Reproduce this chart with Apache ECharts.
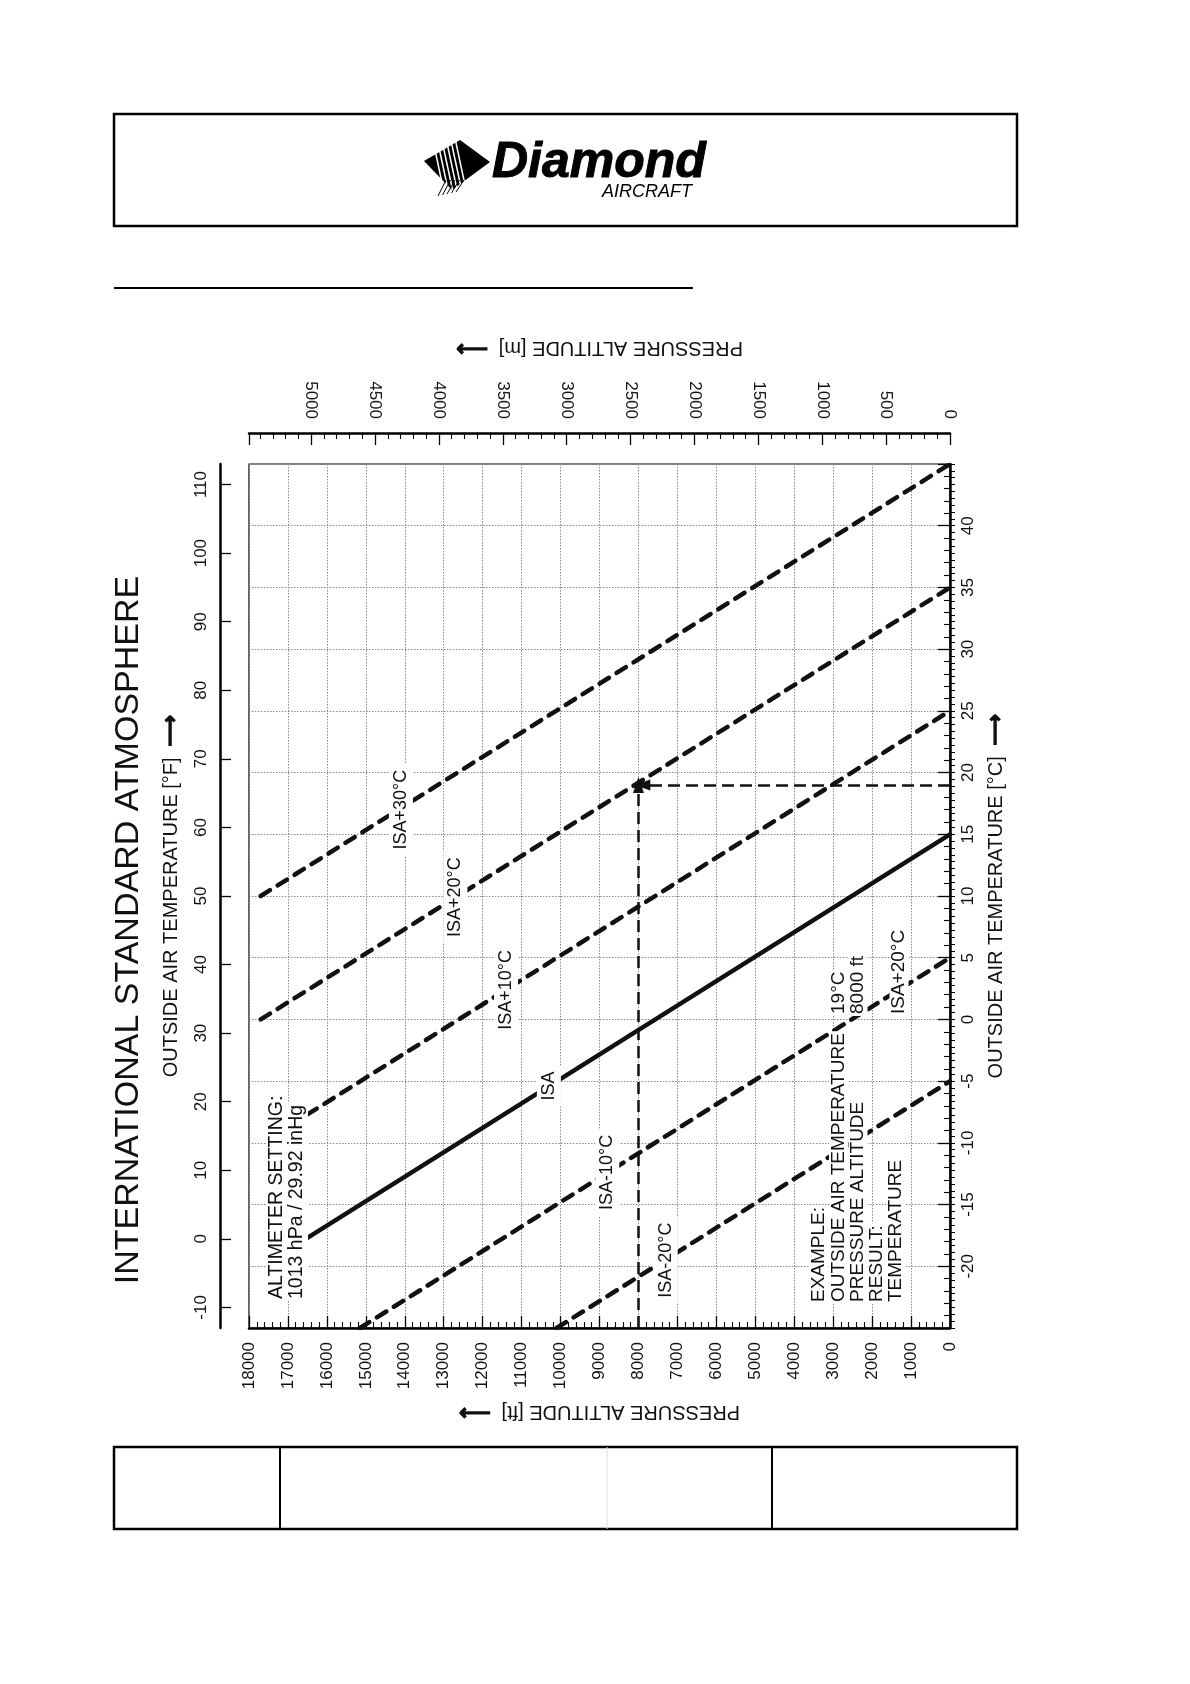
<!DOCTYPE html>
<html>
<head>
<meta charset="utf-8">
<script src="https://cdn.jsdelivr.net/npm/echarts@6/dist/echarts.min.js"></script>
<style>
html,body{margin:0;padding:0;background:#fff;}
#c{width:1190px;height:1684px;}
</style>
</head>
<body>
<div id="c"></div>
<script>
// ---------- data ----------
const lineNames = ['ISA+30°C', 'ISA+20°C', 'ISA+10°C', 'ISA', 'ISA-10°C', 'ISA-20°C'];
const startAlt  = [17700, 17700, 16500, 16500, 15150, 10100];   // ft
const startTemp = [10, 0, -7.7, -17.7, -25, -25];                // °C
const endAlt    = [0, 0, 0, 0, 0, 0];                            // ft
const endTemp   = [45, 35, 25, 15, 5, -5];                       // °C
const labelAlt  = [14100, 12700, 11400, 10300, 8800, 7300];      // ft
const labelTemp = [17, 9.9, 2.4, -5.4, -12.4, -19.5];            // °C

const altTicksFt = [0,1000,2000,3000,4000,5000,6000,7000,8000,9000,10000,11000,12000,13000,14000,15000,16000,17000,18000];
const altTicksM  = [0,500,1000,1500,2000,2500,3000,3500,4000,4500,5000];
const tempTicksC = [-20,-15,-10,-5,0,5,10,15,20,25,30,35,40];
const tempTicksF = [-10,0,10,20,30,40,50,60,70,80,90,100,110];

const altMinFt = 0, altMaxFt = 18000;
const altMaxM = 5486.4;
const tempMinC = -25, tempMaxC = 45;
const tempMinF = -13, tempMaxF = 113;

const exampleAlt = [8000, 7900];   // vertical path alt, horizontal arrow tip alt
const exampleTemp = [19];

const exampleLabels = ['EXAMPLE:', 'OUTSIDE AIR TEMPERATURE', 'PRESSURE ALTITUDE', 'RESULT:', 'TEMPERATURE'];
const exampleValues = ['', '19°C', '8000 ft', '', 'ISA+20°C'];
const altimeterLines = ['ALTIMETER SETTING:', '1013 hPa / 29.92 inHg'];

// ---------- chart ----------
const FONT = '"Liberation Sans", Arial, Helvetica, sans-serif';
const chart = echarts.init(document.getElementById('c'), null, {renderer: 'canvas'});

const series = lineNames.map((n, i) => ({
  type: 'line',
  name: n,
  xAxisIndex: 0,
  yAxisIndex: 0,
  data: [[startAlt[i], startTemp[i]], [endAlt[i], endTemp[i]]],
  symbol: 'none',
  silent: true,
  z: 2,
  lineStyle: {color: '#111', width: 4.5, type: i === 3 ? 'solid' : [11, 9], cap: 'round'},
  markPoint: {
    symbol: 'rect', symbolSize: 1, silent: true, z: 20,
    itemStyle: {color: 'rgba(0,0,0,0)'},
    data: [{coord: [labelAlt[i], labelTemp[i]], name: n}],
    label: {
      show: true, position: 'inside', rotate: 90, formatter: n,
      backgroundColor: '#fff', padding: [3, 6],
      fontSize: 18, fontFamily: FONT, color: '#111'
    }
  }
}));

series.push({
  type: 'line',
  name: 'example',
  xAxisIndex: 0, yAxisIndex: 0,
  data: [],
  silent: true,
  z: 3,
  markLine: {
    silent: true, z: 6,
    symbol: ['none', 'triangle'],
    symbolSize: [11, 16],
    label: {show: false},
    lineStyle: {color: '#111', width: 2.5, type: [12, 6]},
    data: [
      [{coord: [exampleAlt[0], tempMinC]}, {coord: [exampleAlt[0], exampleTemp[0]]}],
      [{coord: [altMinFt, exampleTemp[0]]}, {coord: [exampleAlt[1], exampleTemp[0]]}]
    ]
  }
});

const graphics = [];
// header box + logo
graphics.push({type: 'rect', shape: {x: 114, y: 114, width: 903, height: 112}, style: {fill: 'none', stroke: '#000', lineWidth: 2.5}});
graphics.push({type: 'polygon', shape: {points: [[424, 161], [460, 140], [490, 162], [452, 190]]}, style: {fill: '#000'}});
for (let k = 0; k < 6; k++) {
  graphics.push({type: 'line', shape: {x1: 432 + k * 4.5, y1: 136, x2: 444 + k * 4.5, y2: 192}, style: {stroke: '#fff', lineWidth: 1.5}, z: 2});
}
for (let k = 0; k < 5; k++) {
  graphics.push({type: 'line', shape: {x1: 446 + k * 4.5, y1: 180, x2: 438 + k * 4.5, y2: 196 - k}, style: {stroke: '#000', lineWidth: 1}, z: 2});
}
graphics.push({type: 'text', x: 492, y: 163, style: {text: 'Diamond', font: 'italic bold 50px ' + FONT, fill: '#000', align: 'left', verticalAlign: 'middle', stroke: '#000', lineWidth: 1}});
graphics.push({type: 'text', x: 602, y: 192, style: {text: 'AIRCRAFT', font: 'italic 18px ' + FONT, fill: '#000', align: 'left', verticalAlign: 'middle'}});
// header rule
graphics.push({type: 'line', shape: {x1: 114, y1: 288, x2: 693, y2: 288}, style: {stroke: '#000', lineWidth: 1.8}});
// footer box
graphics.push({type: 'rect', shape: {x: 114, y: 1447, width: 903, height: 82}, style: {fill: 'none', stroke: '#000', lineWidth: 2.5}});
graphics.push({type: 'line', shape: {x1: 280, y1: 1447, x2: 280, y2: 1529}, style: {stroke: '#000', lineWidth: 2}});
graphics.push({type: 'line', shape: {x1: 607, y1: 1447, x2: 607, y2: 1529}, style: {stroke: '#ddd', lineWidth: 1}});
graphics.push({type: 'line', shape: {x1: 772, y1: 1447, x2: 772, y2: 1529}, style: {stroke: '#000', lineWidth: 2}});
// title
graphics.push({type: 'text', x: 129, y: 930, rotation: Math.PI / 2, style: {text: 'INTERNATIONAL STANDARD ATMOSPHERE', font: '34px ' + FONT, fill: '#111', align: 'center', verticalAlign: 'middle'}});
// altimeter note
altimeterLines.forEach((t, i) => {
  graphics.push({type: 'text', x: 277 + i * 20, y: 1301, rotation: Math.PI / 2, z: 50,
    style: {text: t, font: '19.5px ' + FONT, fill: '#111', align: 'left', verticalAlign: 'middle', backgroundColor: '#fff', padding: [1, 2]}});
});
// example block
const exX = [819, 838.5, 858, 877, 896];
exampleLabels.forEach((t, i) => {
  graphics.push({type: 'text', x: exX[i], y: 1304, rotation: Math.PI / 2, z: 50,
    style: {text: t, font: '19px ' + FONT, fill: '#111', align: 'left', verticalAlign: 'middle', backgroundColor: '#fff', padding: [0, 2]}});
  if (exampleValues[i]) {
    graphics.push({type: 'text', x: exX[i] + (i === 4 ? 3 : 0), y: 1016, rotation: Math.PI / 2, z: 50,
      style: {text: exampleValues[i], font: '19px ' + FONT, fill: '#111', align: 'left', verticalAlign: 'middle', backgroundColor: '#fff', padding: [0, 2]}});
  }
});

const labelFont = {fontSize: 17, fontFamily: FONT, color: '#111'};
const nameFont = {
  fontSize: 20, fontFamily: FONT, color: '#111',
  rich: {a: {fontSize: 22, fontFamily: '"DejaVu Sans", sans-serif', color: '#111', textBorderColor: '#111', textBorderWidth: 1.6}}
};
const ARROW = '  {a|⟶}';

const option = {
  animation: false,
  backgroundColor: '#fff',
  grid: {left: 249, right: 240, top: 464, bottom: 356, show: true, borderColor: '#000', borderWidth: 1.2, backgroundColor: 'transparent'},
  xAxis: [
    {
      type: 'value', position: 'bottom', min: altMinFt, max: altMaxFt, interval: 1000, inverse: true,
      name: 'PRESSURE ALTITUDE [ft]' + ARROW, nameLocation: 'middle', nameGap: 73, nameRotate: 180, nameTextStyle: nameFont,
      axisLine: {show: true, onZero: false, lineStyle: {color: '#000', width: 2.5}},
      axisTick: {show: true, inside: true, length: 12, lineStyle: {color: '#000', width: 1.3}},
      minorTick: {show: true, splitNumber: 5, length: 6, lineStyle: {color: '#000', width: 1.1}},
      axisLabel: Object.assign({rotate: 90, margin: 14, hideOverlap: false, formatter: v => altTicksFt.includes(v) ? String(v) : ''}, labelFont),
      splitLine: {show: true, lineStyle: {color: '#8a8a8a', width: 1, type: [1.5, 1.5]}}
    },
    {
      type: 'value', position: 'top', offset: 31, min: 0, max: altMaxM, interval: 500, inverse: true,
      name: 'PRESSURE ALTITUDE [m]' + ARROW, nameLocation: 'middle', nameGap: 74, nameRotate: 180, nameTextStyle: nameFont,
      axisLine: {show: true, onZero: false, lineStyle: {color: '#000', width: 2.5}},
      axisTick: {show: true, inside: true, length: 12, lineStyle: {color: '#000', width: 1.3}},
      minorTick: {show: true, splitNumber: 5, length: 6, lineStyle: {color: '#000', width: 1.1}},
      axisLabel: Object.assign({rotate: 90, margin: 14, hideOverlap: false, showMaxLabel: false, formatter: v => altTicksM.includes(v) ? String(v) : ''}, labelFont),
      splitLine: {show: false}
    }
  ],
  yAxis: [
    {
      type: 'value', position: 'right', min: tempMinC, max: tempMaxC, interval: 5,
      name: 'OUTSIDE AIR TEMPERATURE [°C]' + ARROW, nameLocation: 'middle', nameGap: 34, nameRotate: 90, nameTextStyle: nameFont,
      axisLine: {show: true, onZero: false, lineStyle: {color: '#000', width: 2.5}},
      axisTick: {show: true, inside: true, length: 12, lineStyle: {color: '#000', width: 1.3}},
      minorTick: {show: true, splitNumber: 5, length: 6, lineStyle: {color: '#000', width: 1.1}},
      axisLabel: Object.assign({rotate: 90, margin: 10, hideOverlap: false, formatter: v => tempTicksC.includes(v) ? String(v) : ''}, labelFont),
      splitLine: {show: true, lineStyle: {color: '#8a8a8a', width: 1, type: [1.5, 1.5]}}
    },
    {
      type: 'value', position: 'left', offset: 29, min: tempMinF, max: tempMaxF,
      name: 'OUTSIDE AIR TEMPERATURE [°F]' + ARROW, nameLocation: 'middle', nameGap: 38, nameRotate: 90, nameTextStyle: nameFont,
      axisLine: {show: true, onZero: false, lineStyle: {color: '#000', width: 2.5}},
      axisTick: {show: true, inside: true, length: 11, customValues: tempTicksF, lineStyle: {color: '#000', width: 1.3}},
      axisLabel: Object.assign({rotate: 90, margin: 10, hideOverlap: false, customValues: tempTicksF}, labelFont),
      splitLine: {show: false}
    },
    {
      type: 'value', position: 'left', offset: 29, min: tempMinF, max: tempMaxF, interval: 1,
      axisLine: {show: false},
      axisTick: {show: true, inside: true, length: 5, lineStyle: {color: '#000', width: 1}},
      axisLabel: {show: false},
      splitLine: {show: false}
    }
  ],
  series: series,
  graphic: graphics
};
chart.setOption(option);
</script>
</body>
</html>
